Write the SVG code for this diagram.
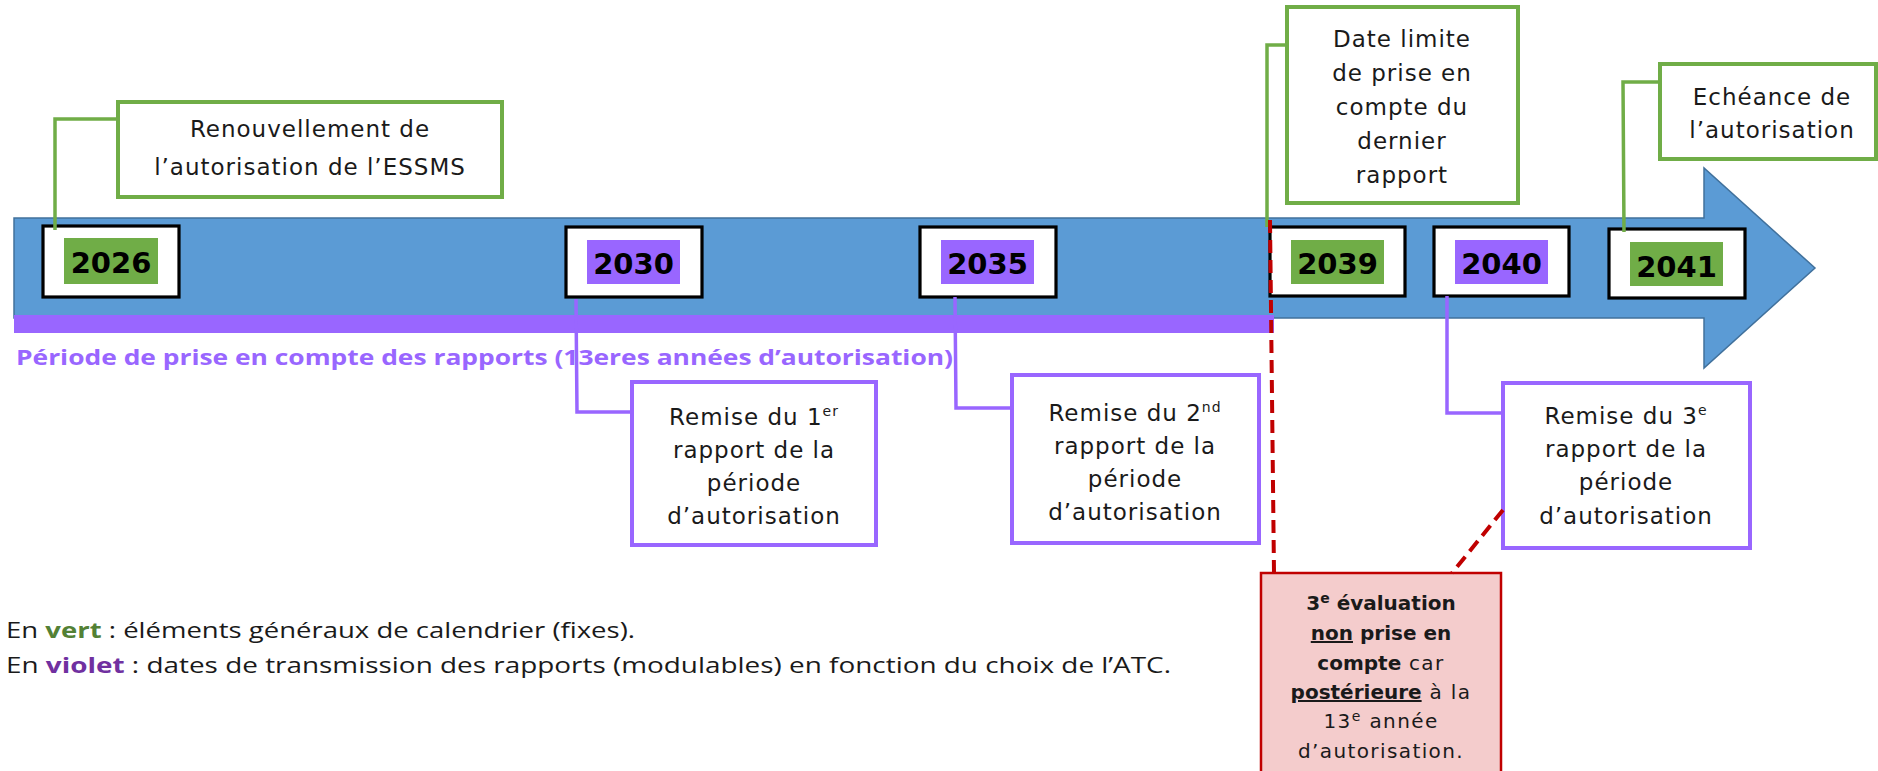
<svg xmlns="http://www.w3.org/2000/svg" width="1878" height="771" viewBox="0 0 1878 771">
<style>
.yearbox{fill:#fff;stroke:#000;stroke-width:3.2}
.gfill{fill:#70AD47}
.pfill{fill:#9966FF}
.year{font-family:"DejaVu Sans",sans-serif;font-weight:bold;font-size:29px;fill:#000;text-anchor:middle}
.gbox{fill:#fff;stroke:#70AD47;stroke-width:4}
.pbox{fill:#fff;stroke:#9966FF;stroke-width:4}
.lbl{font-family:"DejaVu Sans",sans-serif;font-size:23px;letter-spacing:1px;fill:#1a1a1a;text-anchor:middle}
.sup{font-size:14px}
.gline{fill:none;stroke:#70AD47;stroke-width:3.5}
.pline{fill:none;stroke:#9966FF;stroke-width:3.5}
.rdash{fill:none;stroke:#C00000;stroke-width:4;stroke-dasharray:13 7}
.red{font-family:"DejaVu Sans",sans-serif;font-size:20px;fill:#1a1a1a;text-anchor:middle}
.b{font-weight:bold}
.r{letter-spacing:1.4px}
.leg{font-family:"Open Sans",sans-serif;font-size:22px;fill:#1a1a1a}
</style>
<g id="timeline">
<polygon points="14,218 1704,218 1704,168 1815,268 1704,368 1704,318 14,318" fill="#5B9BD5" stroke="#41719C" stroke-width="1.5"/>
<rect x="14" y="315" width="1260" height="18" fill="#9966FF"/>
<text x="16" y="365" font-family="'Open Sans',sans-serif" font-weight="bold" font-size="22" fill="#9966FF" textLength="937" lengthAdjust="spacingAndGlyphs">Période de prise en compte des rapports (13eres années d’autorisation)</text>
</g>
<g id="y2026"><rect class="yearbox" x="43" y="226" width="136" height="71"/><rect class="gfill" x="64" y="238" width="94" height="46"/><text class="year" x="111" y="273">2026</text></g>
<g id="y2030"><rect class="yearbox" x="566" y="227" width="136" height="70"/><rect class="pfill" x="587" y="240" width="93" height="44"/><text class="year" x="633.5" y="274">2030</text></g>
<g id="y2035"><rect class="yearbox" x="920" y="227" width="136" height="70"/><rect class="pfill" x="941" y="240" width="93" height="44"/><text class="year" x="987.5" y="274">2035</text></g>
<g id="y2039"><rect class="yearbox" x="1270" y="227" width="135" height="69"/><rect class="gfill" x="1291" y="240" width="93" height="44"/><text class="year" x="1337.5" y="274">2039</text></g>
<g id="y2040"><rect class="yearbox" x="1434" y="227" width="135" height="69"/><rect class="pfill" x="1455" y="240" width="93" height="44"/><text class="year" x="1501.5" y="274">2040</text></g>
<g id="y2041"><rect class="yearbox" x="1609" y="229" width="136" height="69"/><rect class="gfill" x="1630" y="242" width="93" height="44"/><text class="year" x="1676.5" y="277">2041</text></g>
<g id="renouvellement"><rect class="gbox" x="118" y="102" width="384" height="95"/><text class="lbl" x="310" y="137">Renouvellement de</text><text class="lbl" x="310" y="175">l’autorisation de l’ESSMS</text></g>
<g id="datelimite"><rect class="gbox" x="1287" y="7" width="231" height="196"/>
<text class="lbl" x="1402" y="47">Date limite</text><text class="lbl" x="1402" y="81">de prise en</text><text class="lbl" x="1402" y="115">compte du</text><text class="lbl" x="1402" y="149">dernier</text><text class="lbl" x="1402" y="183">rapport</text></g>
<g id="echeance"><rect class="gbox" x="1660" y="64" width="216" height="95"/><text class="lbl" x="1772" y="105">Echéance de</text><text class="lbl" x="1772" y="138">l’autorisation</text></g>
<g id="remise1"><rect class="pbox" x="632" y="382" width="244" height="163"/>
<text class="lbl" x="754" y="425">Remise du 1<tspan class="sup" dy="-9">er</tspan></text><text class="lbl" x="754" y="458">rapport de la</text><text class="lbl" x="754" y="491">période</text><text class="lbl" x="754" y="524">d’autorisation</text></g>
<g id="remise2"><rect class="pbox" x="1012" y="375" width="247" height="168"/>
<text class="lbl" x="1135" y="421">Remise du 2<tspan class="sup" dy="-9">nd</tspan></text><text class="lbl" x="1135" y="454">rapport de la</text><text class="lbl" x="1135" y="487">période</text><text class="lbl" x="1135" y="520">d’autorisation</text></g>
<g id="remise3"><rect class="pbox" x="1503" y="383" width="247" height="165"/>
<text class="lbl" x="1626" y="424">Remise du 3<tspan class="sup" dy="-9">e</tspan></text><text class="lbl" x="1626" y="457">rapport de la</text><text class="lbl" x="1626" y="490">période</text><text class="lbl" x="1626" y="524">d’autorisation</text></g>
<g id="note3"><rect x="1261" y="573" width="240" height="215" fill="#F4CCCC" stroke="#C00000" stroke-width="2.5"/>
<text class="red b" x="1381" y="610">3<tspan class="sup" dy="-7">e</tspan><tspan dy="7"> évaluation</tspan></text>
<text class="red" x="1381" y="640"><tspan class="b" text-decoration="underline">non</tspan><tspan class="b"> prise en</tspan></text>
<text class="red" x="1381" y="670"><tspan class="b">compte</tspan><tspan class="r"> car</tspan></text>
<text class="red" x="1381" y="699"><tspan class="b" text-decoration="underline">postérieure</tspan><tspan class="r"> à la</tspan></text>
<text class="red r" x="1381" y="728">13<tspan class="sup" dy="-7">e</tspan><tspan dy="7"> année</tspan></text>
<text class="red r" x="1381" y="758">d’autorisation.</text></g>
<g id="legend">
<text class="leg" x="6" y="638" textLength="629" lengthAdjust="spacingAndGlyphs">En <tspan fill="#538135" font-weight="bold">vert</tspan> : éléments généraux de calendrier (fixes).</text>
<text class="leg" x="6" y="673" textLength="1165" lengthAdjust="spacingAndGlyphs">En <tspan fill="#7030A0" font-weight="bold">violet</tspan> : dates de transmission des rapports (modulables) en fonction du choix de l’ATC.</text>
</g>
<g id="connectors">
<polyline class="gline" points="55,230 55,119 118,119"/>
<polyline class="gline" points="1267,227 1267,45 1287,45"/>
<polyline class="gline" points="1624,232 1623,82 1660,82"/>
<polyline class="pline" points="576,299 577,412 632,412"/>
<polyline class="pline" points="955,297 956,408 1012,408"/>
<polyline class="pline" points="1447,296 1447,413 1503,413"/>
<line class="rdash" x1="1270" y1="220" x2="1274" y2="573"/>
<line class="rdash" x1="1503" y1="510" x2="1452" y2="573"/>
</g>
</svg>
